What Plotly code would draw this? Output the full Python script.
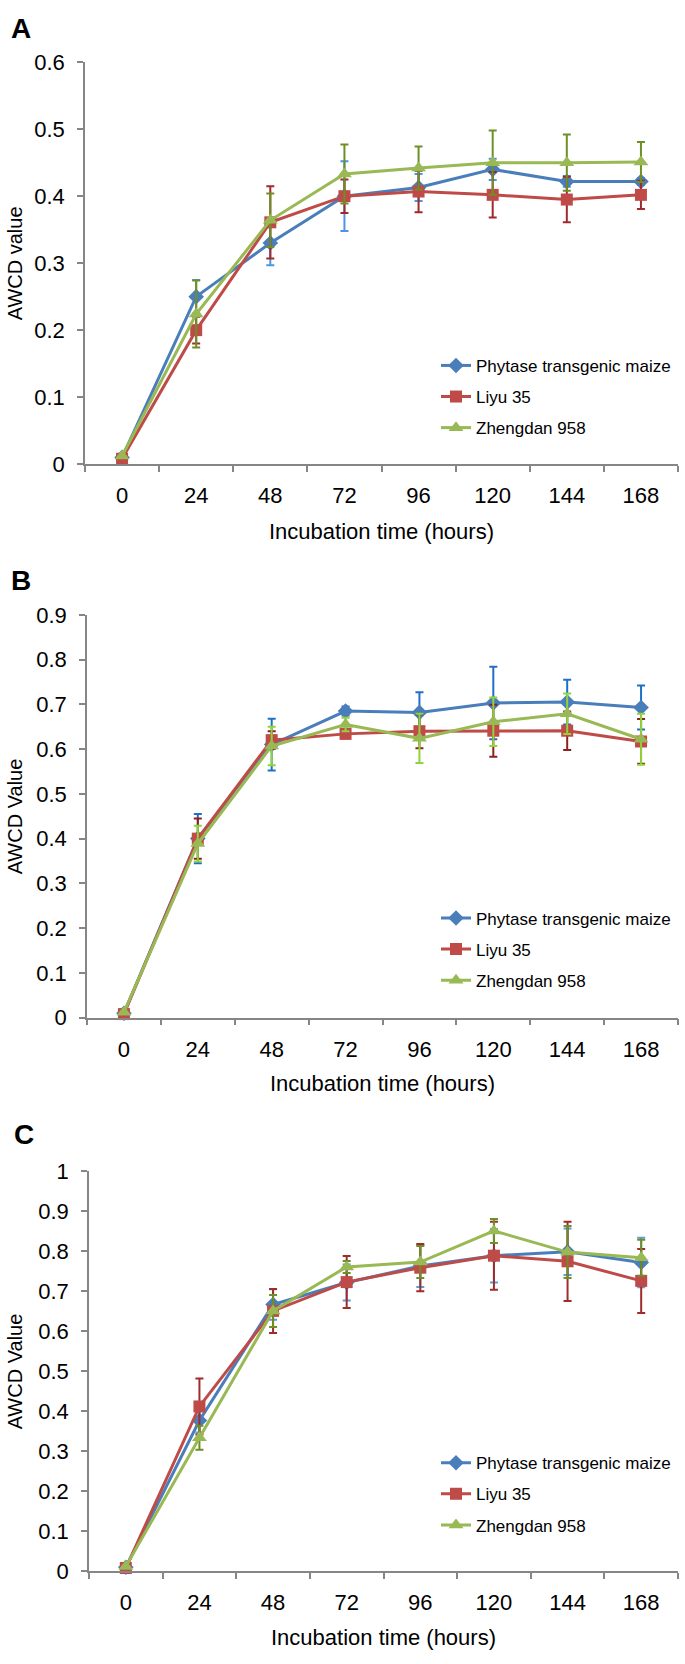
import plotly.graph_objects as go

W, H = 685, 1664

hours = ["0", "24", "48", "72", "96", "120", "144", "168"]
series_names = ["Phytase transgenic maize", "Liyu 35", "Zhengdan 958"]

# Panel A
phytase_A = [0.010, 0.250, 0.330, 0.400, 0.413, 0.440, 0.422, 0.422]
phytase_A_err = [0.0, 0.025, 0.033, 0.052, 0.020, 0.016, 0.008, 0.005]
liyu_A = [0.008, 0.200, 0.361, 0.400, 0.407, 0.402, 0.395, 0.402]
liyu_A_err = [0.0, 0.020, 0.054, 0.025, 0.031, 0.034, 0.034, 0.021]
zheng_A = [0.012, 0.224, 0.364, 0.433, 0.442, 0.450, 0.450, 0.451]
zheng_A_err = [0.0, 0.050, 0.040, 0.044, 0.032, 0.048, 0.042, 0.030]

# Panel B
phytase_B = [0.010, 0.400, 0.610, 0.685, 0.682, 0.703, 0.705, 0.693]
phytase_B_err = [0.0, 0.055, 0.058, 0.010, 0.045, 0.081, 0.050, 0.049]
liyu_B = [0.008, 0.400, 0.620, 0.634, 0.640, 0.641, 0.641, 0.617]
liyu_B_err = [0.0, 0.045, 0.020, 0.010, 0.038, 0.058, 0.043, 0.050]
zheng_B = [0.012, 0.389, 0.607, 0.655, 0.624, 0.661, 0.679, 0.622]
zheng_B_err = [0.0, 0.040, 0.043, 0.015, 0.055, 0.054, 0.045, 0.057]

# Panel C
phytase_C = [0.010, 0.377, 0.667, 0.722, 0.763, 0.789, 0.799, 0.772]
phytase_C_err = [0.0, 0.030, 0.038, 0.045, 0.052, 0.067, 0.058, 0.062]
liyu_C = [0.008, 0.412, 0.651, 0.723, 0.759, 0.789, 0.775, 0.726]
liyu_C_err = [0.0, 0.070, 0.055, 0.065, 0.059, 0.085, 0.099, 0.080]
zheng_C = [0.012, 0.334, 0.651, 0.761, 0.773, 0.851, 0.798, 0.784]
zheng_C_err = [0.0, 0.030, 0.040, 0.015, 0.040, 0.030, 0.065, 0.045]

panel_labels = ["A", "B", "C"]
y_titles = ["AWCD value", "AWCD Value", "AWCD Value"]
y_max = [0.6, 0.9, 1.0]
x_title = "Incubation time (hours)"

line_colors = ["#4A7EBB", "#BE4B48", "#98B954"]
marker_symbols = ["diamond", "square", "triangle-up"]
marker_sizes = [12, 12, 13]
err_colors = [
    ["#4B95E3", "#9E2A2A", "#6E8F25"],
    ["#1E6FC8", "#8E1F1F", "#8FD43A"],
    ["#5A9BDC", "#A02B2B", "#6E8F25"],
]

panels = [
    [(phytase_A, phytase_A_err), (liyu_A, liyu_A_err), (zheng_A, zheng_A_err)],
    [(phytase_B, phytase_B_err), (liyu_B, liyu_B_err), (zheng_B, zheng_B_err)],
    [(phytase_C, phytase_C_err), (liyu_C, liyu_C_err), (zheng_C, zheng_C_err)],
]

# pixel layout (top, bottom, left, right) of each plot area
boxes = [(51, 459, 85, 678), (612, 1021, 87, 678), (1177, 1583, 89, 678)]
label_pos = [(9, 17), (9, 577), (12, 1140)]
xtitle_y = [527, 1088, 1650]
legend_top = [341, 902, 1455]

FONT = "Liberation Sans, Arial, sans-serif"

def px_x(x):
    return x / W

def px_y(y):
    return 1 - y / H

fig = go.Figure()
layout = dict(
    width=W, height=H, margin=dict(l=0, r=0, t=0, b=0),
    paper_bgcolor="white", plot_bgcolor="white",
    font=dict(family=FONT, color="black"),
    showlegend=True,
)
annotations = []

for p in range(3):
    xa = "x" if p == 0 else f"x{p+1}"
    ya = "y" if p == 0 else f"y{p+1}"
    lg = "legend" if p == 0 else f"legend{p+1}"
    for s in range(3):
        vals, errs = panels[p][s]
        fig.add_trace(go.Scatter(
            x=hours, y=vals, name=series_names[s], mode="lines+markers",
            xaxis=xa, yaxis=ya, legend=lg, legendgroup=f"g{p}{s}",
            line=dict(color=line_colors[s], width=3),
            marker=dict(symbol=marker_symbols[s], size=marker_sizes[s], color=line_colors[s]),
            error_y=dict(type="data", array=errs, visible=True, color=err_colors[p][s],
                         thickness=2, width=4),
            cliponaxis=False,
        ))
    top, bot, left, right = boxes[p]
    xkey = "xaxis" if p == 0 else f"xaxis{p+1}"
    ykey = "yaxis" if p == 0 else f"yaxis{p+1}"
    layout[xkey] = dict(
        domain=[px_x(left), px_x(right)], anchor=ya, type="category",
        range=[-0.5, 7.5], showline=True, linecolor="#868686", linewidth=1.5,
        ticks="outside", tickson="boundaries", ticklen=6, tickcolor="#868686",
        tickwidth=1.5, showgrid=False, zeroline=False,
        tickfont=dict(size=22, family=FONT, color="black"), ticklabelstandoff=11,
    )
    layout[ykey] = dict(
        domain=[px_y(bot), px_y(top)], anchor=xa, range=[0, y_max[p]],
        dtick=0.1, tick0=0, showline=True, linecolor="#868686", linewidth=1.5,
        ticks="outside", ticklen=6, tickcolor="#868686", tickwidth=1.5,
        showgrid=False, zeroline=False,
        tickfont=dict(size=22, family=FONT, color="black"), ticklabelstandoff=8,
    )
    layout[lg] = dict(
        x=px_x(436), xanchor="left", y=px_y(legend_top[p]), yanchor="top",
        font=dict(size=17, family=FONT, color="black"), bgcolor="rgba(0,0,0,0)",
        tracegroupgap=6, itemwidth=30,
    )
    lx, ly = label_pos[p]
    annotations.append(dict(
        text=f"<b>{panel_labels[p]}</b>", x=px_x(lx), y=px_y(ly), xref="paper", yref="paper",
        xanchor="left", yanchor="middle", showarrow=False,
        font=dict(size=28, family=FONT, color="black"),
    ))
    annotations.append(dict(
        text=x_title, x=px_x((left + right) / 2), y=px_y(xtitle_y[p]), xref="paper", yref="paper",
        xanchor="center", yanchor="middle", showarrow=False,
        font=dict(size=22, family=FONT, color="black"),
    ))
    annotations.append(dict(
        text=y_titles[p], x=px_x(15), y=px_y((top + bot) / 2), xref="paper", yref="paper",
        xanchor="center", yanchor="middle", showarrow=False, textangle=-90,
        font=dict(size=20, family=FONT, color="black"),
    ))

layout["annotations"] = annotations
fig.update_layout(**layout)
fig.write_html("out.html", config={"displayModeBar": False},
               post_script="document.body.style.margin='0';")
